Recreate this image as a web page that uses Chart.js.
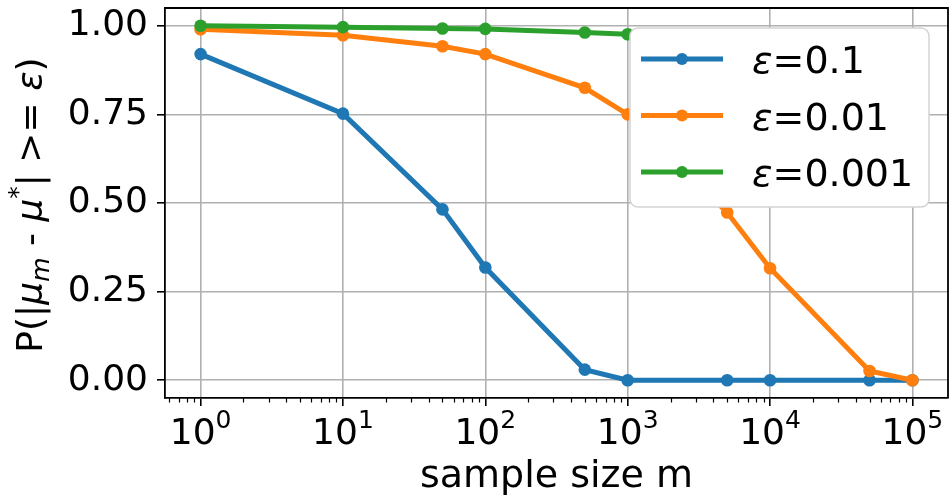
<!DOCTYPE html>
<html>
<head>
<meta charset="utf-8">
<script src="https://cdn.jsdelivr.net/npm/chart.js@4.4.0/dist/chart.umd.min.js"></script>
<style>
    html, body { margin: 0; padding: 0; background: #fff; }
    #contenedor { width: 951px; height: 496px; }
</style>
</head>
<body>
<div id="contenedor"><canvas id="grafico"></canvas></div>
<script>
// Datos
const tamanos = [1, 10, 50, 100, 500, 1000, 5000, 10000, 50000, 100000];
const probEps01 = [0.920, 0.752, 0.482, 0.318, 0.030, 0.0, 0.0, 0.0, 0.0, 0.0];
const probEps001 = [0.990, 0.973, 0.942, 0.920, 0.825, 0.750, 0.473, 0.316, 0.026, 0.0];
const probEps0001 = [1.0, 0.996, 0.992, 0.991, 0.981, 0.976, 0.945, 0.92, 0.83, 0.75];
const epsilons = ['0.1', '0.01', '0.001'];
const ticksX = [1, 10, 100, 1000, 10000, 100000];
const ticksY = [0, 0.25, 0.5, 0.75, 1.0];

const colores = ['#1f77b4', '#ff7f0e', '#2ca02c'];
const fuente = 'DejaVu Sans';
const series = [probEps01, probEps001, probEps0001];

// Marco superior/derecho, marcas menores y etiquetas 10^k del eje x
const marcoPlugin = {
    id: 'marco',
    afterDraw(chart) {
        const ctx = chart.ctx;
        const a = chart.chartArea;
        const sx = chart.scales.x;
        ctx.save();
        ctx.strokeStyle = '#000';
        ctx.lineWidth = 1.8;
        ctx.beginPath();
        ctx.moveTo(a.left, a.top);
        ctx.lineTo(a.right, a.top);
        ctx.lineTo(a.right, a.bottom);
        ctx.stroke();
        ctx.lineWidth = 1.2;
        for (let k = -1; k <= 5; k++) {
            for (let m = 2; m <= 9; m++) {
                const v = m * Math.pow(10, k);
                if (v < sx.min || v > sx.max) continue;
                const px = Math.round(sx.getPixelForValue(v)) + 0.5;
                ctx.beginPath();
                ctx.moveTo(px, a.bottom);
                ctx.lineTo(px, a.bottom + 4.5);
                ctx.stroke();
            }
        }
        // etiquetas con exponente
        ctx.fillStyle = '#000';
        ctx.textBaseline = 'alphabetic';
        ticksX.forEach(v => {
            const exp = String(Math.round(Math.log10(v)));
            ctx.font = '36px "' + fuente + '"';
            const wb = ctx.measureText('10').width;
            ctx.font = '25px "' + fuente + '"';
            const we = ctx.measureText(exp).width;
            const x0 = sx.getPixelForValue(v) - (wb + we) / 2;
            ctx.font = '36px "' + fuente + '"';
            ctx.fillText('10', x0, a.bottom + 46);
            ctx.font = '25px "' + fuente + '"';
            ctx.fillText(exp, x0 + wb, a.bottom + 30);
        });
        ctx.restore();
    }
};

// Título del eje y con subíndices y superíndices
const tituloYPlugin = {
    id: 'tituloY',
    afterDraw(chart) {
        const ctx = chart.ctx;
        const a = chart.chartArea;
        const partes = [
            { t: 'P(|', it: false, s: 36, dy: 0 },
            { t: 'μ', it: true, s: 36, dy: 0 },
            { t: 'm', it: true, s: 25, dy: 7 },
            { t: ' - ', it: false, s: 36, dy: 0 },
            { t: 'μ', it: true, s: 36, dy: 0 },
            { t: '*', it: false, s: 25, dy: -16 },
            { t: '| >= ', it: false, s: 36, dy: 0 },
            { t: 'ε', it: true, s: 36, dy: 0 },
            { t: ')', it: false, s: 36, dy: 0 }
        ];
        ctx.save();
        let total = 0;
        partes.forEach(p => {
            ctx.font = (p.it ? 'italic ' : '') + p.s + 'px "' + fuente + '"';
            p.w = ctx.measureText(p.t).width;
            total += p.w;
        });
        ctx.translate(42, (a.top + a.bottom) / 2 + 2);
        ctx.rotate(-Math.PI / 2);
        ctx.fillStyle = '#000';
        ctx.textBaseline = 'alphabetic';
        let x = -total / 2;
        partes.forEach(p => {
            ctx.font = (p.it ? 'italic ' : '') + p.s + 'px "' + fuente + '"';
            ctx.fillText(p.t, x, p.dy);
            x += p.w;
        });
        ctx.restore();
    }
};

// Leyenda dentro del área del gráfico
const leyendaPlugin = {
    id: 'leyenda',
    afterDraw(chart) {
        const ctx = chart.ctx;
        const x0 = 630, y0 = 28, w = 299, h = 179, r = 8;
        ctx.save();
        ctx.beginPath();
        ctx.roundRect(x0, y0, w, h, r);
        ctx.fillStyle = '#fff';
        ctx.fill();
        ctx.strokeStyle = '#d4d4d4';
        ctx.lineWidth = 1.5;
        ctx.stroke();
        epsilons.forEach((eps, i) => {
            const yy = 59 + i * 56.5;
            ctx.strokeStyle = colores[i];
            ctx.lineWidth = 5;
            ctx.beginPath();
            ctx.moveTo(641, yy);
            ctx.lineTo(723, yy);
            ctx.stroke();
            ctx.fillStyle = colores[i];
            ctx.beginPath();
            ctx.arc(682, yy, 6, 0, Math.PI * 2);
            ctx.fill();
            ctx.fillStyle = '#000';
            ctx.textBaseline = 'alphabetic';
            ctx.font = 'italic 38px "' + fuente + '"';
            ctx.fillText('ε', 752, yy + 14);
            const we = ctx.measureText('ε').width;
            ctx.font = '38px "' + fuente + '"';
            ctx.fillText('=' + eps, 752 + we, yy + 14);
        });
        ctx.restore();
    }
};

function crearGrafico() {
    const ctx = document.getElementById('grafico').getContext('2d');
    const datasets = series.map((s, i) => ({
        label: 'ε=' + epsilons[i],
        data: tamanos.map((m, j) => ({ x: m, y: s[j] })),
        borderColor: colores[i],
        backgroundColor: colores[i],
        borderWidth: 5,
        pointRadius: 6.3,
        pointHoverRadius: 6.3,
        pointBorderWidth: 0,
        tension: 0,
        clip: false,
        order: 3 - i
    }));

    new Chart(ctx, {
        type: 'line',
        data: { datasets: datasets },
        options: {
            responsive: true,
            maintainAspectRatio: false,
            animation: false,
            devicePixelRatio: 1,
            layout: { autoPadding: false, padding: { top: 8, right: 3, left: 0, bottom: 0 } },
            plugins: {
                legend: { display: false },
                tooltip: { enabled: false }
            },
            scales: {
                x: {
                    type: 'logarithmic',
                    min: Math.pow(10, -0.25),
                    max: Math.pow(10, 5.25),
                    afterBuildTicks: s => { s.ticks = ticksX.map(v => ({ value: v, major: true })); },
                    afterFit: s => {
                        s.height = 98;
                        s.paddingLeft = 0; s.paddingRight = 0;
                        s.paddingTop = 0; s.paddingBottom = 0;
                    },
                    ticks: { display: false },
                    grid: { color: '#b0b0b0', lineWidth: 1.6, drawTicks: true, tickLength: 8, tickColor: '#000', tickWidth: 1.6 },
                    border: { display: true, color: '#000', width: 1.8 },
                    title: {
                        display: true,
                        text: 'sample size m',
                        color: '#000',
                        padding: 0,
                        font: { family: fuente, size: 38, lineHeight: 1 }
                    }
                },
                y: {
                    min: -0.05,
                    max: 1.05,
                    afterBuildTicks: s => { s.ticks = ticksY.map(v => ({ value: v })); },
                    afterFit: s => {
                        s.width = 165;
                        s.paddingLeft = 0; s.paddingRight = 0;
                        s.paddingTop = 0; s.paddingBottom = 0;
                    },
                    ticks: {
                        padding: 9,
                        color: '#000',
                        font: { family: fuente, size: 36 },
                        callback: v => Number(v).toFixed(2)
                    },
                    grid: { color: '#b0b0b0', lineWidth: 1.6, drawTicks: true, tickLength: 8, tickColor: '#000', tickWidth: 1.6 },
                    border: { display: true, color: '#000', width: 1.8 }
                }
            }
        },
        plugins: [marcoPlugin, tituloYPlugin, leyendaPlugin]
    });
}

document.addEventListener('DOMContentLoaded', crearGrafico);
</script>
</body>
</html>
